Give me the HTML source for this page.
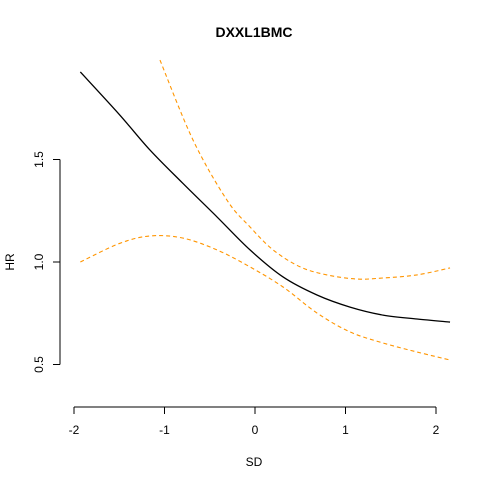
<!DOCTYPE html>
<html><head><meta charset="utf-8"><style>
body{margin:0;background:#fff}
svg text{font-family:"Liberation Sans",Arial,sans-serif;fill:#000}
</style></head><body>
<svg id="chart" width="480" height="480" viewBox="0 0 480 480">
<rect width="480" height="480" fill="#fff"/>
<text x="254" y="37" font-size="14" font-weight="bold" text-anchor="middle">DXXL1BMC</text>
<text x="254" y="466" font-size="12" text-anchor="middle">SD</text>
<text x="0" y="0" font-size="12" text-anchor="middle" transform="translate(14,262) rotate(-90)">HR</text>
<g id="axes"></g>
<g id="series"></g>
</svg>
<script>
const xTicks=[-2,-1,0,1,2];
const yTicks=[0.5,1.0,1.5];
const yTickLabels=["0.5","1.0","1.5"];
const estX=[-1.93,-1.5,-1.16,-0.8,-0.42,-0.055,0.31,0.685,1.05,1.414,1.79,2.155];
const estHR=[1.927,1.72,1.546,1.385,1.22,1.059,0.927,0.839,0.78,0.741,0.722,0.707];
const lowerX=[-1.93,-1.5,-1.16,-0.8,-0.42,-0.055,0.31,0.685,1.05,1.414,1.79,2.155];
const lowerHR=[1.0,1.09,1.127,1.117,1.059,0.976,0.878,0.751,0.659,0.605,0.561,0.522];
const upperX=[-1.05,-0.685,-0.31,-0.055,0.2,0.5,0.796,1.127,1.414,1.79,2.155];
const upperHR=[1.985,1.595,1.302,1.171,1.059,0.976,0.937,0.917,0.922,0.937,0.971];

const sx=v=>255+v*90.5;
const sy=v=>262-(v-1)*205;
const NS="http://www.w3.org/2000/svg";
const axes=document.getElementById('axes'), series=document.getElementById('series');
function mk(tag,attrs,parent){const e=document.createElementNS(NS,tag);for(const k in attrs)e.setAttribute(k,attrs[k]);parent.appendChild(e);return e;}

const xl=mk('line',{x1:sx(-2),x2:sx(2),y1:407,y2:407,stroke:'#000'},axes);


xTicks.forEach(t=>{
  const l=mk('line',{x1:sx(t),x2:sx(t),y1:407,y2:414,stroke:'#000'},axes);
  
  
  const tx=mk('text',{x:sx(t),y:434,'font-size':12,'text-anchor':'middle'},axes);
  tx.textContent=String(t);
  
  
});
const yl=mk('line',{x1:60,x2:60,y1:sy(1.5),y2:sy(0.5),stroke:'#000'},axes);


yTicks.forEach((t,i)=>{
  const l=mk('line',{x1:53,x2:60,y1:sy(t),y2:sy(t),stroke:'#000'},axes);
  
  
  const tx=mk('text',{x:0,y:0,'font-size':12,'text-anchor':'middle',transform:`translate(43,${sy(t)}) rotate(-90)`},axes);
  tx.textContent=yTickLabels[i];
  
  
});
function pathD(xs,ys){
  const p=xs.map((x,i)=>[sx(x),sy(ys[i])]);
  let d=`M${p[0][0]},${p[0][1]}`;
  for(let i=0;i<p.length-1;i++){
    const p0=p[i-1]||p[i],p1=p[i],p2=p[i+1],p3=p[i+2]||p2;
    const c1=[p1[0]+(p2[0]-p0[0])/6,p1[1]+(p2[1]-p0[1])/6];
    const c2=[p2[0]-(p3[0]-p1[0])/6,p2[1]-(p3[1]-p1[1])/6];
    d+=`C${c1[0]},${c1[1]} ${c2[0]},${c2[1]} ${p2[0]},${p2[1]}`;
  }
  return d;
}
const est=mk('path',{d:pathD(estX,estHR),fill:'none',stroke:'#000','stroke-width':1.3},series);


const lo=mk('path',{d:pathD(lowerX,lowerHR),fill:'none',stroke:'#FF9500','stroke-width':1.1,'stroke-dasharray':'4,3'},series);


const up=mk('path',{d:pathD(upperX,upperHR),fill:'none',stroke:'#FF9500','stroke-width':1.1,'stroke-dasharray':'4,3'},series);


</script>
</body></html>
